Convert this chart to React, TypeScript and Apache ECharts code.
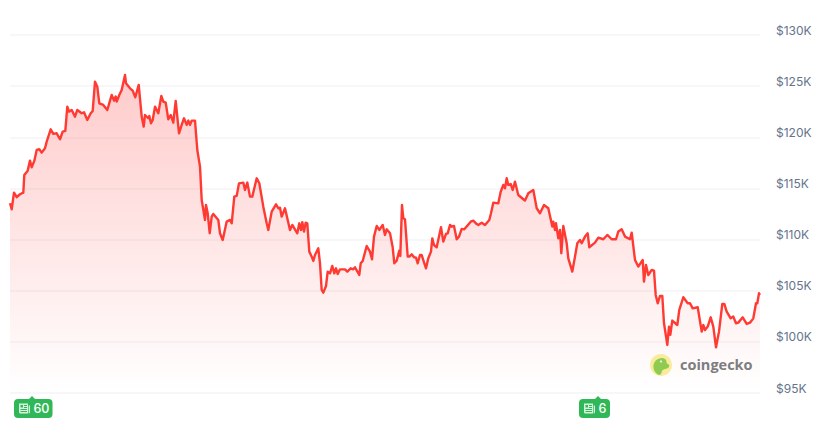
import React, { useEffect, useRef } from "react";
import * as echarts from "echarts";

const yTicks = [95, 100, 105, 110, 115, 120, 125, 130];

const steps = [
  0, 1.7, 4, 6.7, 10, 13.3, 14.3, 17.7, 20, 21.7, 24.3, 26.7, 29.3, 31.7, 35, 36.7, 40.7, 43.3, 46.7, 50, 52.7, 55.3,
  57.3, 59, 61.7, 65, 67.3, 71.7, 74, 77.3, 80.7, 82.7, 85, 87.3, 89.3, 93.3, 97.3, 101.7, 104, 105.7, 106.7, 109.3,
  111.7, 115, 116, 120, 122.7, 125.3, 128.7, 131.7, 133.7, 135, 138.3, 139.3, 141, 142.7, 145, 148.3, 151.3, 153.3,
  155.7, 158.3, 160.7, 163.3, 165.7, 169, 171.7, 174, 176.7, 178.3, 180, 181.7, 185, 187.3, 190, 191.7, 195, 196,
  197.7, 199.7, 201.7, 203.3, 208.3, 210, 212.7, 216.7, 220, 221.7, 224.3, 226.7, 229, 233.3, 235, 237.3, 240, 242.3,
  246.7, 249.3, 253.3, 256.7, 258.3,
  261.7, 266, 268.3, 270, 271.7, 275, 280, 282.3, 287.3, 289.3, 291, 292.3, 294, 295.7, 297.3, 299.3, 301.7, 303.3,
  305, 308.3, 310, 311.7, 313.3, 316, 317.7, 320, 322.3, 324.3, 326, 327.7, 330, 335, 337.3, 340.7, 343.3, 345, 349.3,
  350.7, 352.7, 356.7, 360, 362, 364, 366.7, 369.3, 372.7, 375, 376.7, 380, 382.7, 384.3, 386.7, 389.3, 390.3, 392,
  393.3, 395, 397.7, 399.3, 401.7, 404, 406, 407.7, 410, 411.7, 413.3, 416, 418.3, 421, 422.3, 424, 426.7, 431, 433.3,
  436, 437.7, 440, 441.7, 444, 446.7, 449, 451.7, 454.3, 460.7, 463.3, 466.7, 468.3, 471.7, 475, 479.3, 481, 483.3,
  488.3, 490.7, 493.3, 495, 496.7, 498.3, 500.7, 502.7, 505, 508.3, 513.3, 515, 518.3,
  523.3, 526.7, 530, 534, 538.3, 542.3, 543.3, 545, 546, 548.3, 550, 551.3, 553.3, 556.7, 558.3, 562.3, 565, 567.3,
  570, 571.7, 575, 577.7, 579.3, 585, 588.3, 593.3, 597.3, 601.7, 606, 608.3, 611.7, 615, 620, 621.7, 625, 628.3,
  632.7, 634, 636, 638.3, 641.7, 644, 645.7, 647.7, 650, 652.3, 654, 657.3, 659, 660.3, 662.3, 667.3, 669.3, 673.3,
  677.7, 680, 682.7, 687.7, 691.7, 693.3, 695, 697.7, 700.7, 703.3, 706, 709, 712.3, 714.3, 716.7, 720.7, 723.3, 726,
  728.3, 732.7, 736.7, 740, 741.7, 743.3, 746, 747.3, 749, 750,
];

const pricesK = [
  113.55, 112.96, 114.59, 114.14, 114.43, 114.59, 116.32, 116.74, 117.72, 117.07, 117.69, 118.76, 118.83, 118.5, 118.93,
  119.58, 120.78, 120.33, 120.39, 119.81, 120.56, 120.62, 123, 122.51, 122.67, 122.02, 122.67, 122.35, 122.44, 121.69,
  122.35, 122.57, 125.44, 124.95, 123.32, 123.16, 122.67, 124.14, 123.58, 123.98, 123.49, 124.14, 124.63, 126.09, 125.28,
  124.79, 124.56, 123.91, 125.12, 122.02, 121.04, 122.18, 121.86, 122.09, 121.37, 121.69, 123, 122.35, 124.04, 123.49,
  123.39, 121.76, 122.18, 121.43, 123.55, 120.39, 121.21, 121.86, 121.21, 121.63, 121.21, 121.63, 121.63, 118.76, 117.13,
  113.87, 111.92, 113.39, 112.57, 110.62, 112.25, 112.51, 111.92, 110.62, 109.96, 111.76, 111.92, 111.59, 114.2, 114.27,
  115.5, 115.57, 114.85, 115.57, 114.2, 114.2, 115.99, 115.5, 113.22, 111.59, 110.94,
  112.73, 113.45, 113.06, 113.12, 112.24, 113.06, 110.94, 111.43, 110.61, 111.59, 110.94, 111.69, 110.78, 111.65, 111.59,
  108.82, 108.33, 107.91, 108.49, 109.15, 107.68, 105.07, 104.81, 105.46, 106.86, 106.7, 107.42, 106.7, 107.19, 106.64,
  107.09, 107.09, 106.86, 107.19, 107.09, 107.29, 106.54, 107.68, 107.91, 109.37, 108.82, 108.07, 110.29, 111.33, 110.94,
  111.43, 110.45, 111, 110.61, 109.24, 107.68, 107.94, 108.92, 108.4, 113.38, 112.08, 111.98, 108.33, 108.33, 108.56,
  108.27, 108.23, 107.68, 108.49, 108.49, 108, 107.19, 108.17, 108.82, 110.12, 109.47, 109.24, 111.2, 109.8, 110.55,
  110.61, 111.43, 111.26, 111.33, 110.03, 110.29, 111.04, 111, 111.75, 111.85, 111.52, 111.43, 111.65, 111.43, 111.91,
  112.57, 113.61, 113.54, 114.68, 115.34, 115.01, 115.99, 115.34, 115.43, 114.85, 115.66, 114.36, 113.94, 113.81, 114.52,
  114.85, 113.06, 112.57, 113.38, 113.06, 111.27, 111.75, 110.94, 111.59, 110.13, 110.94, 108.66, 111.33, 109.64, 108.17,
  106.87, 108.33, 109.64, 109.96, 109.64, 110.29, 110.61, 109.25, 109.7, 110.19, 110.03, 110.45, 110.03, 110.03, 110.78,
  111.0, 110.29, 110.03, 110.68, 108.01, 107.36, 108.01, 105.89, 107.52, 106.54, 107.03, 106.96, 104.59, 103.77, 104.49,
  104.49, 101.82, 99.7, 101.49, 100.68, 102.08, 101.65, 103.12, 104.36, 103.77, 103.77, 103.28, 103.38, 101, 101.65,
  101.16, 101.49, 102.4, 101.49, 99.47, 101, 103.71, 103.71, 102.96, 102.3, 102.47, 101.82, 101.88, 102.4, 101.75, 101.88,
  102.08, 102.3, 103.77, 103.77, 104.75, 104.59,
];

const newsBadges = ["60", "6"];
const brandName = "coingecko";

const GECKO = "M11 1C5 1 1 5.5 1 11c0 3.5 1.8 6.6 4.5 8.5C6.5 20 7.5 20.5 9 20c1-.5 1.3-2 1.6-3.5.3-1.6 2-2.2 3.6-2.8 1.7-.6 4.4-1 4.8-3.2.3-1.7-1-2.2-2.5-3C15.8 6.8 16 5.2 15.6 3.8 15 2 13 1 11 1Z";
const NEWS = "M0 0H9V10H1.5C.7 10 0 9.3 0 8.5ZM1.5 1.5V4H4V1.5ZM5 1.5V2.5H8V1.5ZM5 3.5V4.5H8V3.5ZM1.5 5.5V6.5H8V5.5ZM1.5 7.5V8.5H8V7.5ZM9.7 2H11V8.5C11 9.3 10.4 10 9.7 10Z";
echarts.graphic.registerShape("geckoBody", echarts.graphic.extendPath(GECKO, {}));
echarts.graphic.registerShape("newsIcon", echarts.graphic.extendPath(NEWS, {}));

function badge(x: number, w: number, notchX: number, label: string) {
  const green = "#30b858";
  return [
    { type: "rect", x, y: 399, shape: { x: 0, y: 0, width: w, height: 19, r: 4 }, style: { fill: green }, z: 10 },
    { type: "polygon", shape: { points: [[notchX - 3.5, 399.5], [notchX, 396], [notchX + 3.5, 399.5]] }, style: { fill: green }, z: 10 },
    { type: "newsIcon", x: x + 5, y: 403.5, style: { fill: "#d8f3e0" }, z: 11 },
    { type: "text", x: x + 19.5, y: 408.5, style: { text: label, fill: "#ffffff", font: "500 12.5px Inter", textVerticalAlign: "middle" }, z: 11 },
  ];
}

export default function App() {
  const ref = useRef<HTMLDivElement>(null);
  useEffect(() => {
    document.body.style.margin = "0";
    const chart = echarts.init(ref.current!, undefined, { renderer: "svg" });
    chart.setOption({
      animation: false,
      grid: { left: 10, right: 65, top: 35, bottom: 44 },
      xAxis: { type: "value", min: 0, max: 750, show: false },
      yAxis: {
        type: "value",
        position: "right",
        min: yTicks[0],
        max: yTicks[yTicks.length - 1],
        interval: 5,
        axisLine: { show: false },
        axisTick: { show: false },
        axisLabel: {
          margin: 16,
          color: "#64748b",
          fontFamily: "Inter",
          fontSize: 12,
          verticalAlign: "bottom",
          lineHeight: 10,
          formatter: (v: number) => `$${v}K`,
        },
        splitLine: { lineStyle: { color: "#f5f5f7", width: 1.5 } },
      },
      series: [
        {
          type: "line",
          data: steps.map((s, i) => [s, pricesK[i]]),
          showSymbol: false,
          lineStyle: { color: "#ff3a33", width: 2.4, join: "round" },
          areaStyle: {
            color: new echarts.graphic.LinearGradient(0, 0, 0, 1, [
              { offset: 0, color: "rgba(255,50,50,0.36)" },
              { offset: 1, color: "rgba(255,50,50,0)" },
            ]),
          },
          z: 3,
        },
      ],
      graphic: [
        ...badge(14, 38.5, 32, newsBadges[0]),
        ...badge(579, 31, 598, newsBadges[1]),
        { type: "circle", shape: { cx: 661, cy: 365, r: 11 }, style: { fill: "#f8ec9c" }, z: 10 },
        { type: "geckoBody", x: 652.5, y: 357, scaleX: 0.88, scaleY: 0.88, style: { fill: "#8fcb50" }, z: 11 },
        { type: "circle", shape: { cx: 661, cy: 361.5, r: 1.1 }, style: { fill: "#f4f4f4" }, z: 12 },
        { type: "text", x: 680, y: 364.5, style: { text: brandName, fill: "#7d7d80", font: "700 14.5px 'Open Sans'", textVerticalAlign: "middle" }, z: 11 },
      ],
    });
    return () => chart.dispose();
  }, []);
  return <div ref={ref} style={{ width: 825, height: 437 }} />;
}
